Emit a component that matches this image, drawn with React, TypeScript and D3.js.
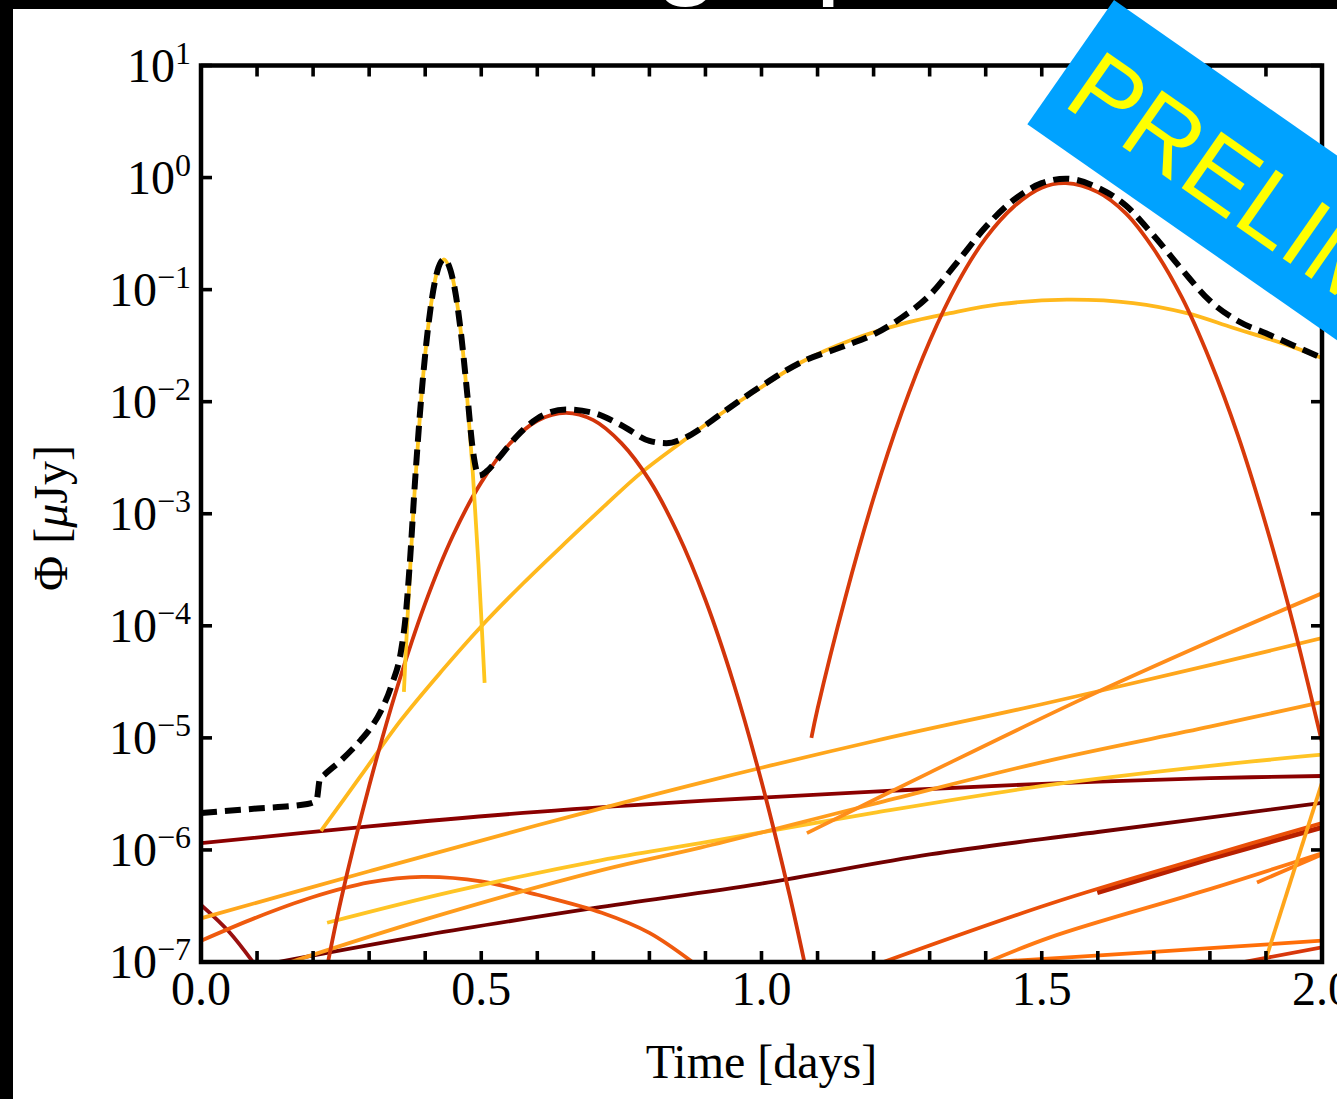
import React, { useEffect } from 'react';
import * as d3 from 'd3';

const W = 1337;
const H = 1099;

// ---------- axis ticks ----------
const xMajorTicks = [0, 0.5, 1.0, 1.5, 2.0];
const xMajorLabels = ['0.0', '0.5', '1.0', '1.5', '2.0'];
const yExponents = [1, 0, -1, -2, -3, -4, -5, -6, -7];

// ---------- series: [time (days), log10 Φ (μJy)] ----------
const totalFlux: [number, number][] = [
  [0, -5.67], [0.1, -5.63], [0.19, -5.59], [0.206, -5.56], [0.212, -5.37], [0.22, -5.33],
  [0.25, -5.2], [0.285, -5.02], [0.3, -4.93], [0.321, -4.76], [0.34, -4.53], [0.357, -4.22],
  [0.365, -3.92], [0.372, -3.48], [0.382, -2.7], [0.392, -2.02], [0.402, -1.48], [0.412, -1.08],
  [0.422, -0.83], [0.4335, -0.73], [0.445, -0.825], [0.455, -1.06], [0.465, -1.44], [0.475, -1.93],
  [0.485, -2.43], [0.496, -2.66], [0.51, -2.62], [0.53, -2.51], [0.565, -2.3], [0.6, -2.15],
  [0.651, -2.07], [0.7, -2.1], [0.75, -2.21], [0.8, -2.35], [0.83, -2.37], [0.86, -2.33],
  [0.9, -2.21], [0.93, -2.1], [1.0, -1.86], [1.07, -1.65], [1.15, -1.5], [1.2, -1.4],
  [1.25, -1.25], [1.3, -1.05], [1.35, -0.75], [1.4, -0.44], [1.45, -0.2], [1.5, -0.05],
  [1.543, -0.01], [1.6, -0.09], [1.65, -0.25], [1.7, -0.52], [1.75, -0.82], [1.8, -1.1],
  [1.85, -1.28], [1.9, -1.39], [1.95, -1.5], [2.0, -1.61],
];

const narrowPeak: [number, number][] = [
  [0.362, -4.59], [0.365, -4.27], [0.372, -3.59], [0.382, -2.73], [0.392, -2.03], [0.402, -1.48],
  [0.412, -1.08], [0.422, -0.83], [0.4335, -0.73], [0.445, -0.825], [0.455, -1.06], [0.465, -1.44],
  [0.475, -1.97], [0.485, -2.64], [0.495, -3.45], [0.506, -4.51],
];

const broadYellow: [number, number][] = [
  [0.214, -5.83], [0.285, -5.34], [0.357, -4.84], [0.43, -4.4], [0.499, -4.01], [0.575, -3.62],
  [0.654, -3.24], [0.72, -2.93], [0.784, -2.64], [0.855, -2.37], [0.927, -2.11], [1.0, -1.87],
  [1.07, -1.65], [1.16, -1.45], [1.248, -1.31], [1.337, -1.21], [1.426, -1.13], [1.545, -1.09],
  [1.663, -1.12], [1.759, -1.21], [1.841, -1.34], [1.93, -1.48], [2.0, -1.61],
];

const redPeak1: [number, number][] = [
  [0.22, -7.17], [0.25, -6.44], [0.3, -5.43], [0.35, -4.55], [0.4, -3.8], [0.45, -3.19],
  [0.5, -2.72], [0.55, -2.38], [0.6, -2.17], [0.651, -2.1], [0.7, -2.165], [0.75, -2.37],
  [0.8, -2.7], [0.85, -3.17], [0.9, -3.77], [0.95, -4.51], [1.0, -5.39], [1.05, -6.4], [1.085, -7.2],
];

const redPeak2: [number, number][] = [
  [1.089, -5.0], [1.1, -4.74], [1.15, -3.74], [1.2, -2.86], [1.25, -2.1], [1.3, -1.46],
  [1.35, -0.94], [1.4, -0.54], [1.45, -0.26], [1.5, -0.09], [1.543, -0.05], [1.6, -0.13],
  [1.65, -0.32], [1.7, -0.64], [1.75, -1.07], [1.8, -1.63], [1.85, -2.3], [1.9, -3.1],
  [1.95, -4.01], [2.0, -5.04],
];

const maroonUpper: [number, number][] = [
  [0, -5.94], [0.3, -5.79], [0.6, -5.66], [0.9, -5.56], [1.2, -5.48], [1.5, -5.41], [1.8, -5.36], [2.0, -5.34],
];

const maroonFalling: [number, number][] = [
  [0, -6.49], [0.05, -6.73], [0.1, -7.05],
];

const maroonLower: [number, number][] = [
  [0.085, -7.05], [0.4, -6.76], [0.7, -6.52], [1.0, -6.3], [1.3, -6.04], [1.6, -5.84], [2.0, -5.58],
];

const orangeA: [number, number][] = [
  [0, -6.61], [0.3, -6.19], [0.6, -5.78], [0.9, -5.39], [1.2, -5.03], [1.5, -4.7], [1.8, -4.35], [2.0, -4.11],
];

const orangeSteep: [number, number][] = [
  [1.081, -5.85], [1.3, -5.31], [1.565, -4.67], [1.8, -4.14], [2.0, -3.71],
];

const orangeB: [number, number][] = [
  [0.13, -7.05], [0.4, -6.62], [0.715, -6.18], [0.891, -5.98], [1.2, -5.59], [1.515, -5.2], [1.8, -4.9], [2.0, -4.68],
];

const yellowLow: [number, number][] = [
  [0.225, -6.65], [0.45, -6.37], [0.715, -6.09], [0.891, -5.94], [1.2, -5.67], [1.515, -5.42], [1.8, -5.25], [2.0, -5.15],
];

const orangeArc: [number, number][] = [
  [0, -6.81], [0.1, -6.6], [0.2, -6.42], [0.3, -6.29], [0.394, -6.24], [0.5, -6.28], [0.6, -6.4],
  [0.715, -6.56], [0.8, -6.74], [0.89, -7.05],
];

const redOrangeLate: [number, number][] = [
  [1.19, -7.05], [1.515, -6.48], [1.8, -6.05], [2.0, -5.76],
];

const darkRedShort: [number, number][] = [
  [1.599, -6.38], [1.8, -6.08], [2.0, -5.8],
];

const orangeLate: [number, number][] = [
  [1.38, -7.05], [1.515, -6.78], [1.8, -6.35], [2.0, -6.03],
];

const orangeShort: [number, number][] = [
  [1.884, -6.29], [2.0, -6.04],
];

const orangeFlat: [number, number][] = [
  [1.38, -7.01], [1.7, -6.91], [2.0, -6.81],
];

const redBottom: [number, number][] = [
  [1.84, -7.02], [2.0, -6.87],
];

const yellowSteep: [number, number][] = [
  [1.895, -7.05], [2.0, -5.4],
];

// ---------- styling of components (drawing order) ----------
const components = [
  { data: maroonFalling, color: '#9a1010' },
  { data: maroonLower, color: '#720000' },
  { data: maroonUpper, color: '#8b0000' },
  { data: orangeArc, color: '#ef5a0e' },
  { data: yellowLow, color: '#ffc425' },
  { data: orangeB, color: '#ff9c1c' },
  { data: orangeA, color: '#ffa61c' },
  { data: orangeFlat, color: '#ff6e08' },
  { data: redBottom, color: '#d8380c' },
  { data: orangeLate, color: '#ff7a14' },
  { data: orangeShort, color: '#ff7a14' },
  { data: darkRedShort, color: '#b82000', width: 5 },
  { data: redOrangeLate, color: '#ea4f08' },
  { data: yellowSteep, color: '#ffa51a' },
  { data: orangeSteep, color: '#ff8d1a' },
  { data: broadYellow, color: '#ffb81c' },
  { data: redPeak1, color: '#d2340a' },
  { data: redPeak2, color: '#d83a0a' },
  { data: narrowPeak, color: '#ffc61e' },
];

const M = { left: 201, right: 1322, top: 65.5, bottom: 962 };

export default function App() {
  useEffect(() => {
    document.body.style.margin = '0';
    document.body.style.overflow = 'hidden';
    document.body.style.background = '#000';
  }, []);

  const x = d3.scaleLinear().domain([0, 2]).range([M.left, M.right]);
  const y = d3.scaleLog().domain([1e-7, 10]).range([M.bottom, M.top]);

  const lineSmooth = d3
    .line<[number, number]>()
    .x((d) => x(d[0]))
    .y((d) => y(Math.pow(10, d[1])))
    .curve(d3.curveCatmullRom.alpha(0.5));

  const lineMono = d3
    .line<[number, number]>()
    .x((d) => x(d[0]))
    .y((d) => y(Math.pow(10, d[1])))
    .curve(d3.curveMonotoneX);

  const minorX = x.ticks(20);
  const serif = "'Liberation Serif', 'Times New Roman', Times, serif";
  const sans = "'Liberation Sans', Arial, Helvetica, sans-serif";
  const tickLen = 11;

  return (
    <div style={{ position: 'absolute', left: 0, top: 0, width: W, height: H, overflow: 'hidden' }}>
      <svg width={W} height={H} viewBox={`0 0 ${W} ${H}`} style={{ display: 'block' }}>
        <defs>
          <clipPath id="plotClip">
            <rect x={M.left} y={M.top} width={M.right - M.left} height={M.bottom - M.top} />
          </clipPath>
          <clipPath id="bandClip">
            <rect x={0} y={0} width={W} height={9} />
          </clipPath>
        </defs>

        {/* slide background */}
        <rect x={0} y={0} width={W} height={H} fill="#000" />
        <rect x={13} y={9} width={W - 13} height={H - 9} fill="#fff" />

        {/* title descenders visible in the top band */}
        <g clipPath="url(#bandClip)" fill="#fff" fontFamily={sans} fontSize={118}>
          <text x={654} y={-18}>g</text>
          <text x={815} y={-18}>p</text>
        </g>

        {/* component curves */}
        <g clipPath="url(#plotClip)" fill="none" strokeLinecap="butt" strokeLinejoin="round">
          {components.map((c, i) => (
            <path key={i} d={lineSmooth(c.data) || ''} stroke={c.color} strokeWidth={c.width ?? 3.8} />
          ))}
          <path
            d={lineMono(totalFlux) || ''}
            stroke="#000"
            strokeWidth={6}
            strokeDasharray="16 8"
            fill="none"
          />
        </g>

        {/* frame */}
        <rect
          x={M.left}
          y={M.top}
          width={M.right - M.left}
          height={M.bottom - M.top}
          fill="none"
          stroke="#000"
          strokeWidth={4.5}
        />

        {/* ticks */}
        <g stroke="#000" strokeWidth={3.6}>
          {minorX.map((t, i) => (
            <g key={i}>
              <line x1={x(t)} x2={x(t)} y1={M.bottom} y2={M.bottom - tickLen} />
              <line x1={x(t)} x2={x(t)} y1={M.top} y2={M.top + tickLen} />
            </g>
          ))}
          {yExponents.map((e) => (
            <g key={e}>
              <line x1={M.left} x2={M.left + tickLen} y1={y(Math.pow(10, e))} y2={y(Math.pow(10, e))} />
              <line x1={M.right} x2={M.right - tickLen} y1={y(Math.pow(10, e))} y2={y(Math.pow(10, e))} />
            </g>
          ))}
        </g>

        {/* x tick labels */}
        <g fontFamily={serif} fontSize={48} fill="#000" textAnchor="middle">
          {xMajorTicks.map((t, i) => (
            <text key={i} x={x(t)} y={1005}>
              {xMajorLabels[i]}
            </text>
          ))}
        </g>

        {/* y tick labels */}
        <g fontFamily={serif} fill="#000">
          {yExponents.map((e) => (
            <text key={e} x={191} y={y(Math.pow(10, e)) + 16} textAnchor="end" fontSize={48}>
              10
              <tspan dy={-18} fontSize={32}>
                {e < 0 ? `\u2212${-e}` : `${e}`}
              </tspan>
            </text>
          ))}
        </g>

        {/* axis titles */}
        <text x={x(1)} y={1078} textAnchor="middle" fontFamily={serif} fontSize={48} fill="#000">
          Time [days]
        </text>
        <text
          transform="translate(67,518) rotate(-90)"
          textAnchor="middle"
          fontFamily={serif}
          fontSize={48}
          fill="#000"
        >
          Φ [<tspan fontStyle="italic">μ</tspan>Jy]
        </text>

        {/* PRELIMINARY banner */}
        <g transform="translate(1114,0) rotate(34.9)">
          <rect x={0} y={0} width={800} height={151.5} fill="#00a2ff" />
          <text x={16} y={115.5} fontFamily={sans} fontSize={100} fill="#ffff00">
            PRELIMINARY
          </text>
        </g>
      </svg>
    </div>
  );
}
